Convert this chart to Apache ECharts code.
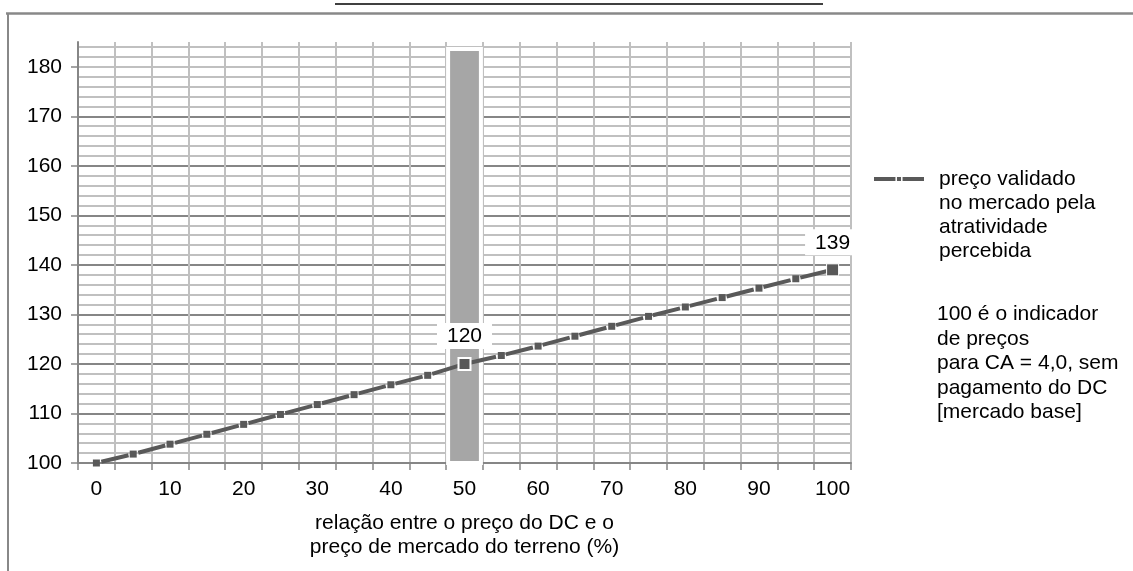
<!DOCTYPE html>
<html>
<head>
<meta charset="utf-8">
<script src="https://cdn.jsdelivr.net/npm/echarts@6/dist/echarts.min.js"></script>
<style>
  html, body { margin: 0; padding: 0; background: #ffffff; }
  #chart { width: 1133px; height: 571px; }
</style>
</head>
<body>
<div id="chart"></div>
<script>
// Price index against the share of the land price paid as DC
const categories = ['0', '5', '10', '15', '20', '25', '30', '35', '40', '45', '50',
                    '55', '60', '65', '70', '75', '80', '85', '90', '95', '100'];
const priceIndex = [100, 101.8, 103.8, 105.8, 107.8, 109.8, 111.8, 113.8, 115.8, 117.7, 120,
                    121.7, 123.6, 125.6, 127.6, 129.6, 131.5, 133.4, 135.3, 137.2, 139];
const labelledPoints = ['50', '100'];
const bandCategory = '50';
const bandTop = 184;
const yMajorTicks = [100, 110, 120, 130, 140, 150, 160, 170, 180];
const seriesName = 'preço validado\nno mercado pela\natratividade\npercebida';
const noteLines = ['100 é o indicador', 'de preços', 'para CA = 4,0, sem', 'pagamento do DC', '[mercado base]'];
const xAxisTitle = 'relação entre o preço do DC e o\npreço de mercado do terreno (%)';

const FONT = 'Liberation Sans, Arial, sans-serif';
const FS = 21;
const INK = '#595959';
const AXIS_GREY = '#868686';
const MINOR_GREY = '#c0c0c0';

const bandData = categories.map(c => (c === bandCategory ? bandTop : null));

const lineData = priceIndex.map((v, i) => {
  if (labelledPoints.indexOf(categories[i]) < 0) return v;
  return {
    value: v,
    symbolSize: 12,
    itemStyle: { color: INK, borderColor: '#ffffff', borderWidth: categories[i] === bandCategory ? 2 : 1 },
    label: {
      show: true,
      position: 'top',
      distance: 8,
      formatter: '{c}',
      color: '#000000',
      fontFamily: FONT,
      fontSize: FS,
      backgroundColor: '#ffffff',
      padding: [3, 10, 2, 10]
    }
  };
});

const chart = echarts.init(document.getElementById('chart'), null, { renderer: 'canvas' });

chart.setOption({
  animation: false,
  backgroundColor: '#ffffff',
  textStyle: { fontFamily: FONT },
  grid: { left: 78, right: 282, top: 42, bottom: 108, containLabel: false },
  xAxis: {
    type: 'category',
    data: categories,
    boundaryGap: true,
    axisLine: { show: true, lineStyle: { color: AXIS_GREY, width: 2 } },
    axisTick: { show: true, interval: 0, length: 7, lineStyle: { color: AXIS_GREY, width: 1.5 } },
    axisLabel: { interval: 1, margin: 16, color: '#000000', fontSize: FS, fontFamily: FONT },
    splitLine: { show: true, interval: 0, lineStyle: { color: MINOR_GREY, width: 2 } },
    name: xAxisTitle,
    nameLocation: 'middle',
    nameGap: 48,
    nameTextStyle: { color: '#000000', fontSize: FS, fontFamily: FONT, lineHeight: 24 }
  },
  yAxis: [
    {
      // fine grid every 2 index points
      type: 'value',
      min: 100,
      max: 185,
      interval: 2,
      position: 'left',
      axisLine: { show: false },
      axisTick: { show: false },
      axisLabel: { show: false },
      splitLine: { show: true, showMinLine: false, showMaxLine: false, lineStyle: { color: MINOR_GREY, width: 2 } }
    },
    {
      // labelled scale every 10 index points
      type: 'value',
      min: 100,
      max: 185,
      interval: 10,
      position: 'left',
      axisLine: { show: true, lineStyle: { color: AXIS_GREY, width: 2 } },
      axisTick: { show: true, length: 7, customValues: yMajorTicks, lineStyle: { color: AXIS_GREY, width: 1.5 } },
      axisLabel: { margin: 16, color: '#000000', fontSize: FS, fontFamily: FONT, customValues: yMajorTicks },
      splitLine: { show: true, showMinLine: false, showMaxLine: false, lineStyle: { color: AXIS_GREY, width: 2 } }
    }
  ],
  legend: {
    show: true,
    left: 872,
    top: 95,
    padding: 0,
    orient: 'vertical',
    selectedMode: false,
    itemWidth: 50,
    itemHeight: 7,
    data: [seriesName],
    // three blank lines above the name push its first line level with the key
    formatter: name => '\n\n\n' + name,
    lineStyle: { type: 'solid', dashOffset: 0, width: 4, color: INK },
    itemStyle: { color: INK, borderColor: '#ffffff', borderWidth: 1.5 },
    textStyle: { color: '#000000', fontSize: FS, fontFamily: FONT, lineHeight: 24, padding: [0, 0, 0, 10] }
  },
  series: [
    {
      name: 'faixa DC',
      type: 'bar',
      yAxisIndex: 0,
      data: bandData,
      barWidth: '100%',
      itemStyle: { color: '#a6a6a6', borderColor: '#ffffff', borderWidth: 4 },
      z: 2
    },
    {
      name: seriesName,
      type: 'line',
      yAxisIndex: 1,
      data: lineData,
      symbol: 'rect',
      symbolSize: 7,
      showAllSymbol: true,
      itemStyle: { color: INK },
      lineStyle: { color: INK, width: 4, type: [28, 10.05], dashOffset: 33 },
      z: 3
    }
  ],
  graphic: [
    { type: 'line', shape: { x1: 335, y1: 4, x2: 823, y2: 4 }, style: { stroke: '#000000', lineWidth: 1.5 }, silent: true },
    { type: 'line', shape: { x1: 6, y1: 13.5, x2: 1133, y2: 13.5 }, style: { stroke: '#888888', lineWidth: 2.5 }, silent: true },
    { type: 'line', shape: { x1: 8, y1: 13, x2: 8, y2: 571 }, style: { stroke: '#888888', lineWidth: 2 }, silent: true },
    {
      type: 'text',
      left: 937,
      top: 302,
      silent: true,
      style: {
        text: noteLines.join('\n'),
        fill: '#000000',
        font: FS + 'px ' + FONT,
        lineHeight: 24.6
      }
    }
  ]
});
</script>
</body>
</html>
